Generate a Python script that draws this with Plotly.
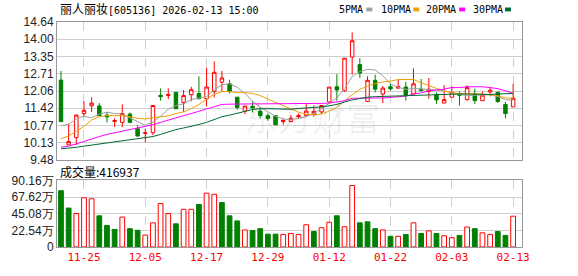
import plotly.graph_objects as go

# ---------------- data ----------------
dates = ["11-20", "11-21", "11-24", "11-25", "11-26", "11-27", "11-28",
         "12-01", "12-02", "12-03", "12-04", "12-05",
         "12-08", "12-09", "12-10", "12-11", "12-12",
         "12-15", "12-16", "12-17", "12-18", "12-19",
         "12-22", "12-23", "12-24", "12-25", "12-26",
         "12-29", "12-30", "12-31",
         "01-05", "01-06", "01-07", "01-08", "01-09",
         "01-12", "01-13", "01-14", "01-15", "01-16",
         "01-19", "01-20", "01-21", "01-22", "01-23",
         "01-26", "01-27", "01-28", "01-29", "01-30",
         "02-02", "02-03", "02-04", "02-05", "02-06",
         "02-09", "02-10", "02-11", "02-12", "02-13"]
tick_labels = ["11-25", "12-05", "12-17", "12-29", "01-12", "01-22", "02-03", "02-13"]

open_ = [12.47, 10.05, 10.32, 11.22, 11.51, 11.50, 11.16, 10.92, 10.89, 11.20,
         10.65, 10.48, 10.50, 11.90, 11.89, 12.01, 11.63, 11.92, 11.97, 11.77,
         12.04, 12.39, 12.33, 11.83, 11.31, 11.49, 11.31, 11.14, 11.14, 10.92,
         10.92, 11.10, 11.14, 11.19, 11.28, 11.65, 12.22, 12.07, 13.33, 13.05,
         11.67, 12.46, 11.95, 12.22, 12.17, 12.21, 11.95, 12.13, 12.04, 11.92,
         11.61, 11.83, 11.95, 11.74, 11.95, 11.70, 12.03, 12.01, 11.56, 11.47]
high = [12.81, 10.84, 11.18, 11.68, 11.83, 11.61, 11.28, 11.04, 11.56, 11.26,
        10.78, 10.66, 11.53, 12.16, 12.16, 12.02, 12.10, 12.22, 12.61, 12.93,
        13.17, 12.81, 12.48, 11.83, 11.50, 11.68, 11.44, 11.22, 11.15, 11.04,
        11.16, 11.22, 11.59, 11.52, 11.53, 12.21, 12.69, 13.29, 14.25, 13.29,
        12.61, 12.67, 12.25, 12.33, 12.49, 12.40, 12.91, 12.51, 12.55, 12.01,
        12.28, 12.25, 12.04, 12.28, 12.15, 12.04, 12.21, 12.04, 11.65, 12.33]
low = [10.90, 10.04, 10.04, 11.10, 11.28, 11.14, 10.89, 10.72, 10.72, 10.86,
       10.36, 10.14, 10.41, 11.70, 11.76, 11.38, 11.28, 11.68, 11.76, 11.49,
       11.82, 12.04, 11.97, 11.37, 11.20, 11.26, 11.04, 10.95, 10.78, 10.80,
       10.89, 11.04, 11.14, 11.10, 11.22, 11.61, 11.70, 12.04, 12.67, 12.55,
       11.67, 12.01, 11.61, 12.07, 12.15, 11.70, 11.95, 12.04, 11.77, 11.58,
       11.61, 11.83, 11.52, 11.70, 11.58, 11.70, 11.86, 11.61, 11.04, 11.47]
close = [10.92, 10.17, 11.16, 11.34, 11.61, 11.14, 11.09, 10.96, 11.22, 10.89,
         10.38, 10.50, 11.52, 11.85, 11.93, 11.40, 11.89, 12.11, 11.77, 12.21,
         12.76, 12.55, 12.04, 11.44, 11.50, 11.44, 11.14, 11.04, 10.80, 10.96,
         11.04, 11.14, 11.31, 11.30, 11.52, 12.21, 12.10, 13.29, 13.94, 12.73,
         12.46, 12.13, 12.17, 12.14, 12.22, 11.89, 12.33, 12.08, 12.13, 11.73,
         11.74, 12.01, 11.90, 12.19, 11.70, 11.91, 12.09, 11.67, 11.22, 11.79]

# volume in units of 万
volume_wan = [76.2, 52.7, 45.3, 66.6, 65.3, 42.2, 29.2, 23.9, 40.5, 24.8,
              22.6, 16.1, 32.7, 58.8, 45.3, 31.4, 51.0, 51.0, 57.5, 72.8,
              71.4, 60.1, 42.2, 35.3, 23.1, 22.2, 24.8, 17.4, 17.4, 17.0,
              18.3, 17.0, 30.1, 20.9, 26.1, 33.5, 42.2, 27.4, 83.2, 32.7,
              34.0, 24.8, 23.1, 14.4, 14.4, 17.0, 32.7, 18.3, 21.8, 18.3,
              15.2, 12.6, 15.7, 27.0, 24.8, 19.2, 17.0, 20.9, 15.7, 41.6937]

ma5 = [10.76, 10.82, 11.02, 11.12, 11.06, 11.20, 11.27, 11.22, 11.20, 11.06,
       10.92, 10.78, 10.90, 11.12, 11.38, 11.52, 11.58, 11.74, 11.80, 11.85,
       12.10, 12.30, 12.33, 12.20, 11.98, 11.68, 11.45, 11.28, 11.12, 11.02,
       10.98, 11.04, 11.10, 11.22, 11.40, 11.60, 11.80, 12.15, 12.60, 12.79,
       12.87, 12.85, 12.63, 12.33, 12.20, 12.12, 12.16, 12.13, 12.12, 12.10,
       12.07, 11.98, 11.93, 11.89, 11.90, 11.92, 11.92, 11.85, 11.74, 11.72]
ma10 = [10.28, 10.38, 10.56, 10.74, 10.98, 11.10, 11.14, 11.14, 11.14, 11.10,
        11.04, 11.02, 11.07, 11.10, 11.13, 11.22, 11.28, 11.40, 11.56, 11.76,
        11.94, 12.04, 12.04, 12.00, 12.00, 11.97, 11.89, 11.76, 11.64, 11.53,
        11.40, 11.27, 11.19, 11.17, 11.20, 11.31, 11.46, 11.70, 11.92, 12.12,
        12.25, 12.34, 12.40, 12.43, 12.49, 12.49, 12.49, 12.37, 12.25, 12.16,
        12.07, 12.00, 11.97, 11.97, 11.97, 11.95, 11.92, 11.89, 11.80, 11.80]
ma20 = [9.96, 10.00, 10.08, 10.18, 10.26, 10.36, 10.44, 10.50, 10.56, 10.62,
        10.68, 10.72, 10.80, 10.89, 10.98, 11.06, 11.14, 11.22, 11.31, 11.40,
        11.49, 11.56, 11.57, 11.58, 11.58, 11.58, 11.58, 11.58, 11.58, 11.58,
        11.58, 11.59, 11.59, 11.60, 11.60, 11.61, 11.645, 11.70, 11.79, 11.80,
        11.80, 11.80, 11.80, 11.83, 11.85, 11.87, 11.95, 11.99, 12.07, 12.10,
        12.13, 12.19, 12.19, 12.22, 12.22, 12.22, 12.19, 12.15, 12.07, 11.97]
ma30 = [9.90, 9.92, 9.96, 10.00, 10.04, 10.08, 10.12, 10.16, 10.20, 10.23,
        10.26, 10.30, 10.36, 10.44, 10.54, 10.62, 10.68, 10.74, 10.81, 10.89,
        10.99, 11.10, 11.16, 11.22, 11.30, 11.37, 11.40, 11.40, 11.40, 11.39,
        11.38, 11.41, 11.44, 11.45, 11.46, 11.51, 11.56, 11.65, 11.73, 11.78,
        11.83, 11.85, 11.86, 11.88, 11.89, 11.90, 11.91, 11.92, 11.92, 11.92,
        11.93, 11.95, 11.95, 11.95, 11.94, 11.92, 11.93, 11.95, 11.96, 11.97]

price_ticks = [9.48, 10.13, 10.77, 11.42, 12.06, 12.71, 13.35, 14.00, 14.64]
vol_ticks = [0, 22.54, 45.08, 67.62, 90.16]
vol_tick_text = ["0", "22.54万", "45.08万", "67.62万", "90.16万"]

title_text = "丽人丽妆[605136] 2026-02-13 15:00"
vol_text = "成交量:416937"
ma_names = ["5PMA", "10PMA", "20PMA", "30PMA"]

# ---------------- styling / layout ----------------
W, H = 578, 276
L, R, T, B = 56, 56, 22, 21
PW, PH = W - L - R, H - T - B


def px_x(x):
    return (x - L) / PW


def px_y(y):
    return (H - B - y) / PH


RED = "#ff0000"
GREEN = "#008000"
ma_colors = ["#a0a0a0", "#f0a000", "#ff00ff", "#006a33"]
GRID = "#cfcfcf"
FRAME = "#999999"
LABEL = "#222222"

fig = go.Figure()

fig.add_trace(go.Candlestick(
    x=dates, open=open_, high=high, low=low, close=close,
    xaxis="x", yaxis="y",
    increasing=dict(line=dict(color=RED, width=1), fillcolor="#ffffff"),
    decreasing=dict(line=dict(color=GREEN, width=1), fillcolor=GREEN),
    whiskerwidth=0, showlegend=False, hoverinfo="skip",
))

for ys, col in zip([ma5, ma10, ma20, ma30], ma_colors):
    fig.add_trace(go.Scatter(x=dates, y=ys, mode="lines", xaxis="x", yaxis="y",
                             line=dict(color=col, width=1), showlegend=False,
                             hoverinfo="skip"))

# volume colour: up vs previous close (first bar: vs open)
vol_up = [close[0] >= open_[0]] + [close[i] >= close[i - 1] for i in range(1, len(close))]
bar_fill = ["#ffffff" if u else GREEN for u in vol_up]
bar_line = [RED if u else GREEN for u in vol_up]
fig.add_trace(go.Bar(x=dates, y=volume_wan, xaxis="x2", yaxis="y2",
                     marker=dict(color=bar_fill, line=dict(color=bar_line, width=1)),
                     width=0.62, showlegend=False, hoverinfo="skip"))

xr = [-0.52, 60.16]
common_x = dict(type="category", range=xr, tickmode="array", tickvals=tick_labels,
                showgrid=True, gridcolor=GRID, griddash="dash", gridwidth=1,
                showline=True, linecolor=FRAME, linewidth=1, mirror=True,
                zeroline=False, ticks="", fixedrange=True)
common_y = dict(showgrid=True, gridcolor=GRID, gridwidth=1, showline=True,
                linecolor=FRAME, linewidth=1, mirror=True, zeroline=False,
                ticks="", tickmode="array",
                tickfont=dict(family="Liberation Sans, Arial", size=12, color=LABEL))

fig.update_layout(
    width=W, height=H,
    margin=dict(l=L, r=R, t=T, b=B, pad=0),
    paper_bgcolor="#ffffff", plot_bgcolor="#ffffff",
    boxgap=0.35,
    bargap=0.3,
    showlegend=False,
    xaxis=dict(common_x, domain=[0, 1], anchor="y", showticklabels=False,
               rangeslider=dict(visible=False)),
    yaxis=dict(common_y, domain=[px_y(165), 1], anchor="x",
               range=[price_ticks[0], price_ticks[-1]], tickvals=price_ticks,
               ticktext=[f"{v:.2f}" for v in price_ticks]),
    xaxis2=dict(common_x, domain=[0, 1], anchor="y2", showticklabels=True,
                tickfont=dict(family="DejaVu Sans Mono, monospace", size=11, color=RED)),
    yaxis2=dict(common_y, domain=[0, px_y(186)], anchor="x2",
                range=[vol_ticks[0], vol_ticks[-1]], tickvals=vol_ticks,
                ticktext=vol_tick_text),
)

annotations = []
# watermark
annotations.append(dict(text="东方财富", x=px_x(312), y=px_y(92), xref="paper", yref="paper",
                        showarrow=False, font=dict(family="Noto Sans CJK SC", size=34,
                                                   color="rgba(0,0,0,0.06)")))
# title
annotations.append(dict(text="<span style='font-size:12px'>丽人丽妆</span>[605136] 2026-02-13 15:00",
                        x=px_x(57), y=px_y(9.5), xref="paper", yref="paper",
                        xanchor="left", yanchor="middle", showarrow=False,
                        font=dict(family="DejaVu Sans Mono, Noto Sans CJK SC", size=10,
                                  color="#000000")))
# MA legend
leg_text_x = [337, 379, 424, 471]
leg_box_x = [366, 413, 459, 505]
shapes = []
for name, tx, bx, col in zip(ma_names, leg_text_x, leg_box_x, ma_colors):
    annotations.append(dict(text=name, x=px_x(tx), y=px_y(9.5), xref="paper", yref="paper",
                            xanchor="left", yanchor="middle", showarrow=False,
                            font=dict(family="DejaVu Sans Mono", size=10, color="#000000")))
    shapes.append(dict(type="rect", xref="paper", yref="paper",
                       x0=px_x(bx), x1=px_x(bx + 6), y0=px_y(11), y1=px_y(7),
                       fillcolor=col, line=dict(width=0)))
# volume caption
annotations.append(dict(text=vol_text, x=px_x(57), y=px_y(176.5), xref="paper", yref="paper",
                        xanchor="left", yanchor="middle", showarrow=False,
                        font=dict(family="Noto Sans CJK SC", size=12, color="#000000")))

fig.update_layout(annotations=annotations, shapes=shapes)

fig.write_html("out.html")
